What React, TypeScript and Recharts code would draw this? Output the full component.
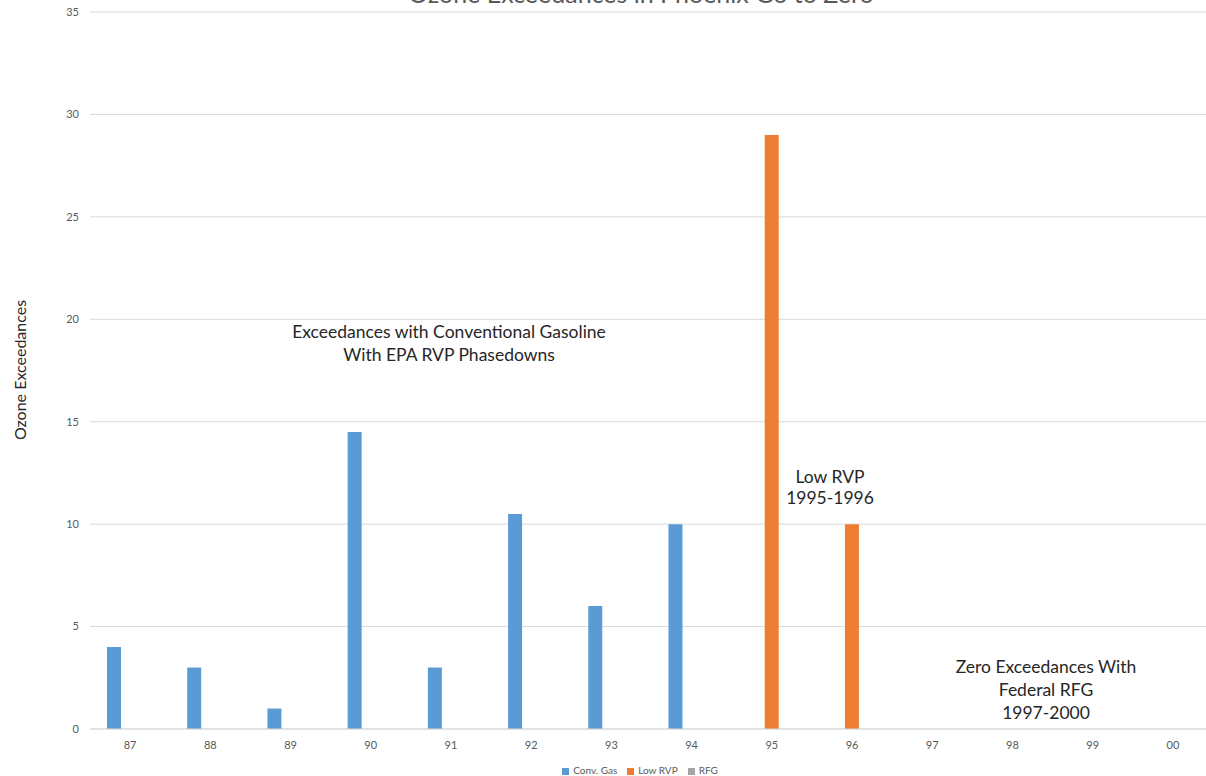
import { BarChart, Bar, XAxis, YAxis, CartesianGrid, Legend } from "recharts";

const years = ["87", "88", "89", "90", "91", "92", "93", "94", "95", "96", "97", "98", "99", "00"];
const convGas = [4, 3, 1, 14.5, 3, 10.5, 6, 10, 0, 0, 0, 0, 0, 0];
const lowRvp = [0, 0, 0, 0, 0, 0, 0, 0, 29, 10, 0, 0, 0, 0];
const rfg = [0, 0, 0, 0, 0, 0, 0, 0, 0, 0, 0, 0, 0, 0];
const yTicks = [0, 5, 10, 15, 20, 25, 30, 35];

const data = years.map((year, i) => ({
  year,
  conv: convGas[i],
  low: lowRvp[i],
  rfg: rfg[i],
}));

const font = "Lato, 'Open Sans', sans-serif";
const tickStyle = { fill: "#595959", fontSize: 11, fontFamily: font };

export default function App() {
  return (
    <div
      style={{
        position: "absolute",
        top: 0,
        left: 0,
        width: 1206,
        height: 776,
        overflow: "hidden",
        background: "#fff",
        fontFamily: font,
      }}
    >
      <BarChart
        width={1220}
        height={776}
        data={data}
        margin={{ top: 12, right: 7, left: 0, bottom: 0 }}
        barGap={2}
      >
        <CartesianGrid vertical={false} stroke="#D9D9D9" />
        <XAxis
          dataKey="year"
          axisLine={{ stroke: "#D9D9D9" }}
          tickLine={false}
          tickSize={0}
          tickMargin={12}
          tick={tickStyle}
          height={35}
        />
        <YAxis
          domain={[0, 35]}
          ticks={yTicks}
          axisLine={false}
          tickLine={false}
          tickSize={0}
          tickMargin={11}
          tick={tickStyle}
          width={90}
        />
        <Legend
          verticalAlign="bottom"
          iconType="square"
          iconSize={7}
          wrapperStyle={{ fontSize: 10, fontFamily: font, left: 0, width: 1290 }}
          formatter={(v) => <span style={{ color: "#595959" }}>{v}</span>}
        />
        <Bar dataKey="conv" name="Conv. Gas" fill="#5B9BD5" barSize={14} isAnimationActive={false} />
        <Bar dataKey="low" name="Low RVP" fill="#ED7D31" barSize={14} isAnimationActive={false} />
        <Bar dataKey="rfg" name="RFG" fill="#A5A5A5" barSize={14} isAnimationActive={false} />
      </BarChart>
      <svg
        width={1206}
        height={776}
        style={{ position: "absolute", top: 0, left: 0, pointerEvents: "none" }}
        fontFamily={font}
      >
        <text x={641} y={3} textAnchor="middle" fontSize={25} fill="#595959">
          Ozone Exceedances in Phoenix Go to Zero
        </text>
        <text
          x={19}
          y={370}
          textAnchor="middle"
          dominantBaseline="central"
          fontSize={16}
          fill="#262626"
          transform="rotate(-90 19 370)"
        >
          Ozone Exceedances
        </text>
        <g fontSize={17.5} fill="#262626" textAnchor="middle">
          <text x={449} y={338}>Exceedances with Conventional Gasoline</text>
          <text x={449} y={361}>With EPA RVP Phasedowns</text>
          <text x={830} y={483}>Low RVP</text>
          <text x={830} y={504}>1995-1996</text>
          <text x={1046} y={673}>Zero Exceedances With</text>
          <text x={1046} y={696}>Federal RFG</text>
          <text x={1046} y={719}>1997-2000</text>
        </g>
      </svg>
    </div>
  );
}
